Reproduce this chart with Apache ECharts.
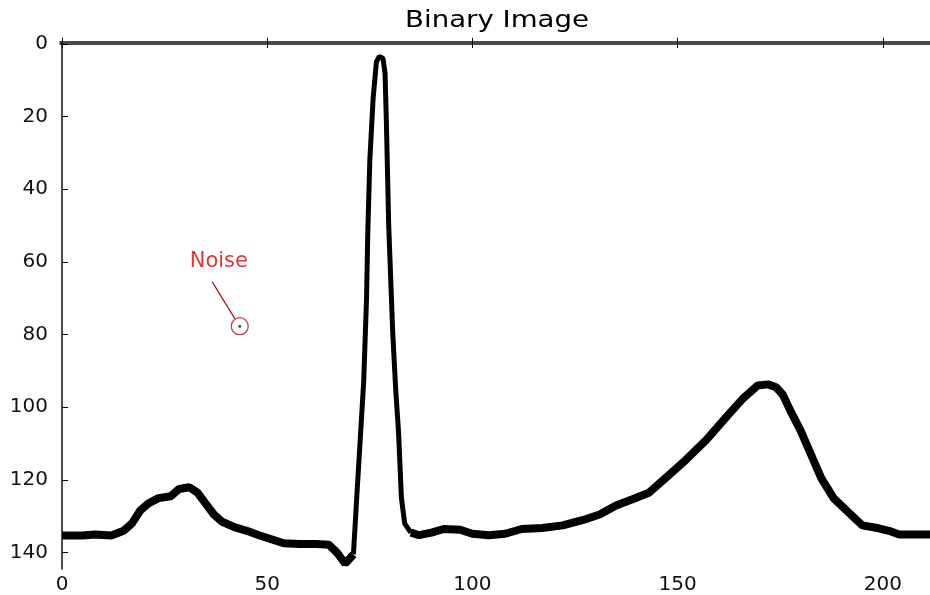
<!DOCTYPE html>
<html>
<head>
<meta charset="utf-8">
<script src="https://cdn.jsdelivr.net/npm/echarts@6/dist/echarts.min.js"></script>
<style>
  html, body { margin: 0; padding: 0; background: #fff; }
  #main { width: 930px; height: 595px; }
</style>
</head>
<body>
<div id="main"></div>
<script>
// tick labels
var xTicks = [0, 50, 100, 150, 200];
var yTicks = [0, 20, 40, 60, 80, 100, 120, 140];

// waveform, [column, row]
var pWave = [
  [0, 135.3], [5, 135.3], [8, 135], [12, 135.3], [15, 134], [17, 132],
  [19, 128.5], [21, 126.5], [23.5, 125], [26.5, 124.5], [28.5, 122.5],
  [31, 122], [33, 123.5], [35, 126.5], [37, 129.5], [39, 131.5], [42, 133],
  [45, 134], [48, 135.2], [51, 136.3], [54, 137.4], [58, 137.6], [62, 137.6],
  [65, 137.8], [67, 140], [69, 143], [71, 140.5]
];
var qrs = [
  [71, 140.5], [71.8, 125], [72.6, 110], [73.5, 93], [74.2, 70], [74.5, 52],
  [75, 32], [75.8, 15], [76.6, 5], [77.3, 3.5], [78.2, 4], [78.7, 8],
  [79, 20], [79.6, 50], [80.6, 80], [81.3, 95], [82, 107], [82.7, 125],
  [83.5, 132], [85, 134.5]
];
var tWave = [
  [85, 134.5], [87, 135.2], [90, 134.5], [93, 133.5], [97, 133.7], [100, 134.8],
  [104, 135.2], [108, 134.8], [112, 133.5], [117, 133.2], [122, 132.5],
  [127, 131], [131, 129.5], [135, 127], [139, 125.3], [143, 123.5],
  [147, 119.5], [152, 114.5], [157, 109], [162, 102.5], [166, 97.5],
  [169.5, 94], [172, 93.7], [174, 94.5], [175.6, 96.5], [177.5, 101],
  [180, 106.5], [182.5, 113], [185, 119.5], [188, 125], [191.5, 128.8],
  [195, 132.5], [199, 133.3], [201.5, 134], [204, 135], [208, 135], [212, 135]
];
var noise = [[43.3, 77.7]];
var noiseLabel = [38.2, 60];
var noiseArrow = [[36.6, 65.5], [42.1, 75.6]];

var chart = echarts.init(document.getElementById("main"));
var font = "DejaVu Sans";

var xAxisBase = {
  type: "value",
  min: -0.5,
  max: 211.5,
  splitLine: { show: false },
  axisLine: { show: true, lineStyle: { color: "#111", width: 1.5 } },
  axisTick: { inside: true, length: 6, customValues: xTicks, lineStyle: { color: "#000" } }
};

var option = {
  animation: false,
  backgroundColor: "#fff",
  graphic: [{
    type: "text",
    x: 497,
    y: 21,
    scaleX: 1.2,
    style: {
      text: "Binary Image",
      fontFamily: font,
      fontSize: 23,
      fill: "#000",
      align: "center",
      verticalAlign: "middle"
    }
  }],
  grid: { left: 60, top: 42, right: -2, bottom: 26 },
  xAxis: [
    Object.assign({}, xAxisBase, {
      position: "bottom",
      axisLabel: { customValues: xTicks, fontFamily: font, fontSize: 20, color: "#111", margin: 6 }
    }),
    Object.assign({}, xAxisBase, {
      position: "top",
      axisLabel: { show: false }
    })
  ],
  yAxis: {
    type: "value",
    inverse: true,
    min: -0.5,
    max: 144.5,
    splitLine: { show: false },
    axisLine: { show: true, lineStyle: { color: "#111", width: 1.5 } },
    axisTick: { inside: true, length: 6, customValues: yTicks, lineStyle: { color: "#000" } },
    axisLabel: { customValues: yTicks, fontFamily: font, fontSize: 20, color: "#111", margin: 12 }
  },
  series: [
    {
      type: "line", data: pWave, showSymbol: false, silent: true,
      lineStyle: { color: "#000", width: 8 }
    },
    {
      type: "line", data: qrs, showSymbol: false, silent: true,
      lineStyle: { color: "#000", width: 5 }
    },
    {
      type: "line", data: tWave, showSymbol: false, silent: true,
      lineStyle: { color: "#000", width: 8 }
    },
    {
      type: "scatter", data: noise, symbol: "circle", symbolSize: 17, silent: true,
      itemStyle: { color: "rgba(0,0,0,0)", borderColor: "#b01010", borderWidth: 1.2 }
    },
    {
      type: "scatter", data: noise, symbol: "circle", symbolSize: 3, silent: true,
      itemStyle: { color: "#222" }
    },
    {
      type: "line", data: noiseArrow, showSymbol: false, silent: true,
      lineStyle: { color: "#a01010", width: 1.2 }
    },
    {
      type: "scatter", data: [noiseLabel], symbolSize: 0, silent: true,
      label: {
        show: true, position: "inside", formatter: "Noise",
        fontFamily: font, fontSize: 21, color: "#e00000"
      }
    }
  ]
};
chart.setOption(option);
</script>
</body>
</html>
